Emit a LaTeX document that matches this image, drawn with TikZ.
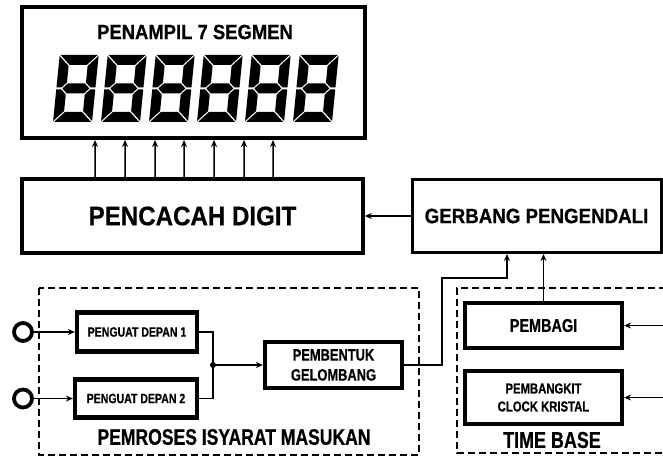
\documentclass[tikz,border=0pt]{standalone}
\usepackage{fontspec}
\setmainfont{Liberation Sans}[FakeStretch=0.9, BoldFeatures={FakeBold=0.6}]
\newfontfamily\narrowfont{Liberation Sans}[FakeStretch=0.78, BoldFeatures={FakeBold=0.6}]
\usetikzlibrary{arrows.meta}
\begin{document}
\begin{tikzpicture}[x=1pt, y=-1pt, line join=miter, >={Stealth[length=7pt,width=6pt]}, font=\bfseries,
		box/.style={draw, line width=3.6pt, inner sep=0pt, align=center},
		dbox/.style={line width=2.2pt, dash pattern=on 7pt off 4pt},
		conn/.style={line width=1.6pt}]
			\def\dwid{39}\def\dhgt{67}\def\dthk{10}\def\dgap{1}\def\dmid{33.5}
			\useasboundingbox (0,0) rectangle (663,457);
			\path
			(213,365) coordinate (J)
			(442,278) coordinate (belok)
			(663,325.5) coordinate (clk1)
			(663,397.5) coordinate (clk2)
			;
			\node[box, line width=4pt, minimum width=343, minimum height=131] (disp) at (193.5,72.5) {};
			\node[font=\bfseries\fontsize{20.5}{22}\selectfont] (judul) at (195,32) {PENAMPIL 7 SEGMEN};
			\foreach \k in {0,...,5}{
				\begin{scope}[shift={(53+48*\k,122)}, y=1pt, xslant=0.1]
					\fill (\dgap,\dhgt)--(\dwid-\dgap,\dhgt)--(\dwid-\dthk-\dgap,\dhgt-\dthk)--(\dthk+\dgap,\dhgt-\dthk)--cycle;
					\fill (\dgap,0)--(\dwid-\dgap,0)--(\dwid-\dthk-\dgap,\dthk)--(\dthk+\dgap,\dthk)--cycle;
					\fill (\dthk/2+\dgap,\dmid)--(\dthk+\dgap,\dmid+\dthk/2)--(\dwid-\dthk-\dgap,\dmid+\dthk/2)--(\dwid-\dthk/2-\dgap,\dmid)--(\dwid-\dthk-\dgap,\dmid-\dthk/2)--(\dthk+\dgap,\dmid-\dthk/2)--cycle;
					\fill (0,\dhgt-\dgap)--(\dthk,\dhgt-\dthk-\dgap)--(\dthk,\dmid+\dthk/2+\dgap)--(\dthk/2,\dmid+\dgap)--(0,\dmid+\dgap)--cycle;
					\fill (\dwid,\dhgt-\dgap)--(\dwid-\dthk,\dhgt-\dthk-\dgap)--(\dwid-\dthk,\dmid+\dthk/2+\dgap)--(\dwid-\dthk/2,\dmid+\dgap)--(\dwid,\dmid+\dgap)--cycle;
					\fill (0,\dgap)--(\dthk,\dthk+\dgap)--(\dthk,\dmid-\dthk/2-\dgap)--(\dthk/2,\dmid-\dgap)--(0,\dmid-\dgap)--cycle;
					\fill (\dwid,\dgap)--(\dwid-\dthk,\dthk+\dgap)--(\dwid-\dthk,\dmid-\dthk/2-\dgap)--(\dwid-\dthk/2,\dmid-\dgap)--(\dwid,\dmid-\dgap)--cycle;
				\end{scope}
			}
			\node[box, minimum width=341, minimum height=74, font=\bfseries\fontsize{26.8}{30}\selectfont] (pencacah) at (192.5,216) {PENCACAH DIGIT};
			\node[box, line width=3pt, minimum width=249, minimum height=73, font=\bfseries\fontsize{20.8}{22}\selectfont] (gerbang) at (536.5,216) {GERBANG PENGENDALI};
			\foreach \x in {97,127,157,186,216,246,275}
				\draw[line width=1.5pt,->] ([xshift=\x-22]pencacah.north west) -- ([xshift=\x-22]disp.south west);
			\draw[conn,->] (gerbang.west) -- (pencacah.east);
			\draw[dbox] (39,288) rectangle (419,455);
			\draw[dbox] (666,288) -- (457,288) -- (457,453) -- (666,453);
			\node[circle, draw, line width=3.8pt, minimum size=18, inner sep=0pt] (in1) at (23,332) {};
			\node[circle, draw, line width=3.8pt, minimum size=18, inner sep=0pt] (in2) at (23,398.5) {};
			\node[box, line width=4.2pt, minimum width=120, minimum height=39, font=\narrowfont\bfseries\fontsize{13.5}{15}\selectfont] (penguat1) at (137,332) {PENGUAT DEPAN 1};
			\node[box, line width=4.2pt, minimum width=122, minimum height=38, font=\narrowfont\bfseries\fontsize{13.5}{15}\selectfont] (penguat2) at (136,398.5) {PENGUAT DEPAN 2};
			\node[box, line width=4.2pt, minimum width=137, minimum height=46, font=\narrowfont\bfseries\fontsize{16.5}{20}\selectfont] (pembentuk) at (333.5,365) {PEMBENTUK\\GELOMBANG};
			\node[box, line width=4.2pt, minimum width=157, minimum height=45, font=\narrowfont\bfseries\fontsize{18.5}{20}\selectfont] (pembagi) at (543.5,325.5) {PEMBAGI};
			\node[box, line width=4.2pt, minimum width=157, minimum height=53, font=\narrowfont\bfseries\fontsize{14.5}{18}\selectfont] (kristal) at (543.5,397.5) {PEMBANGKIT\\CLOCK KRISTAL};
			\draw[conn,->] (in1) -- (penguat1);
			\draw[conn,->] (in2) -- (penguat2);
			\draw[conn] (penguat1.east) -| (J);
			\draw[conn] (penguat2.east) -| (J);
			\fill (J) circle (3);
			\draw[conn,->] (J) -- (pembentuk.west);
			\draw[conn,->] (pembentuk.east) -| (belok) -| ([xshift=-29.5]gerbang.south);
			\draw[conn,->] (pembagi.north) -- (pembagi.north |- gerbang.south);
			\draw[conn,->] (clk1) -- (pembagi.east);
			\draw[conn,->] (clk2) -- (kristal.east);
			\node[font=\narrowfont\bfseries\fontsize{22.5}{24}\selectfont] (pemroses) at (234,437) {PEMROSES ISYARAT MASUKAN};
			\node[font=\narrowfont\bfseries\fontsize{23}{24}\selectfont] (timebase) at (552,440) {TIME BASE};
		\end{tikzpicture}
\end{document}
